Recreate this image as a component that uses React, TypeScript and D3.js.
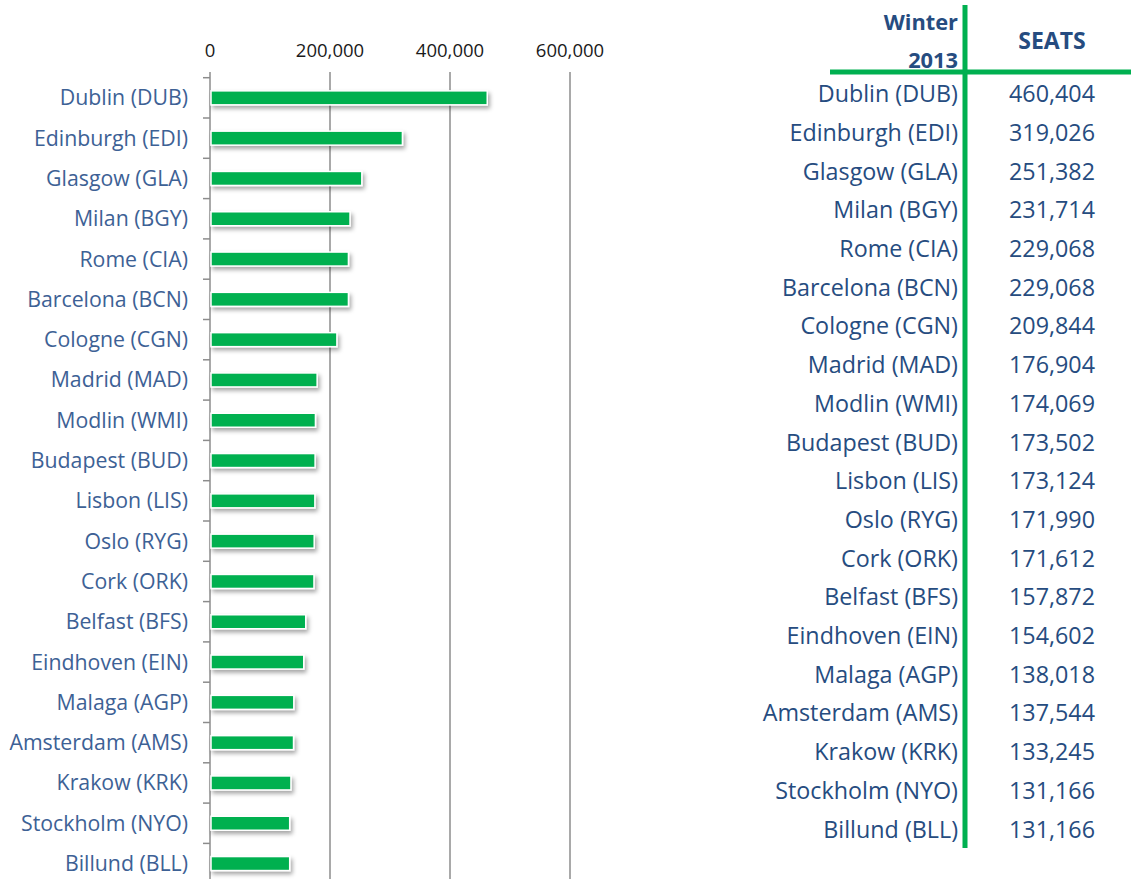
import React from "react";
import * as d3 from "d3";

const airports = [
  "Dublin (DUB)", "Edinburgh (EDI)", "Glasgow (GLA)", "Milan (BGY)", "Rome (CIA)",
  "Barcelona (BCN)", "Cologne (CGN)", "Madrid (MAD)", "Modlin (WMI)", "Budapest (BUD)",
  "Lisbon (LIS)", "Oslo (RYG)", "Cork (ORK)", "Belfast (BFS)", "Eindhoven (EIN)",
  "Malaga (AGP)", "Amsterdam (AMS)", "Krakow (KRK)", "Stockholm (NYO)", "Billund (BLL)",
];
const seats = [
  460404, 319026, 251382, 231714, 229068, 229068, 209844, 176904, 174069, 173502,
  173124, 171990, 171612, 157872, 154602, 138018, 137544, 133245, 131166, 131166,
];
const xTicks = [0, 200000, 400000, 600000];
const headerLeft = ["Winter", "2013"];
const headerRight = "SEATS";

const W = 1131;
const H = 879;
const labelColor = "#3d6195";
const tableColor = "#264c80";
const green = "#00b050";
const font = "'Open Sans', Lato, sans-serif";

export default function App() {
  const x = d3.scaleLinear().domain([0, 600000]).range([210, 570]);
  const y = d3.scaleBand<string>().domain(airports).range([77.7, 77.7 + 20 * 40.3]);
  const barH = 14;
  const fmt = d3.format(",");
  const ty = d3.scaleBand<string>().domain(airports).range([74.7, 74.7 + 20 * 38.7]);

  return (
    <svg width={W} height={H} style={{ position: "absolute", left: 0, top: 0 }} fontFamily={font}>
      <defs>
        <filter id="sh" x="-10%" y="-50%" width="130%" height="250%">
          <feDropShadow dx="2" dy="3" stdDeviation="2" floodColor="#000" floodOpacity="0.35" />
        </filter>
      </defs>
      <rect width={W} height={H} fill="#fff" />
      {/* gridlines */}
      {xTicks.map((t) => (
        <line key={"g" + t} x1={x(t)} x2={x(t)} y1={72} y2={H} stroke="#8c8c8c" strokeWidth={1.5} />
      ))}
      {/* tick labels */}
      {xTicks.map((t) => (
        <text key={"t" + t} x={x(t)} y={51} dy="0.35em" textAnchor="middle" fontSize={18.5} fill="#1a1a1a">
          {fmt(t)}
        </text>
      ))}
      {/* category ticks */}
      {airports.map((a) => (
        <line key={"ct" + a} x1={203} x2={210} y1={y(a)!} y2={y(a)!} stroke="#8c8c8c" strokeWidth={1.5} />
      ))}
      {/* bars */}
      {airports.map((a, i) => {
        const cy = y(a)! + y.bandwidth() / 2;
        return (
          <rect
            key={"b" + a}
            x={x(0) + 1}
            y={cy - barH / 2}
            width={x(seats[i]) - x(0)}
            height={barH}
            fill={green}
            stroke="#fff"
            strokeWidth={1.5}
            filter="url(#sh)"
          />
        );
      })}
      {/* category labels */}
      {airports.map((a) => (
        <text key={"l" + a} x={188} y={y(a)! + y.bandwidth() / 2} dy="0.35em" textAnchor="end" fontSize={21.3} fill={labelColor}>
          {a}
        </text>
      ))}

      {/* table */}
      <line x1={965} x2={965} y1={5} y2={848} stroke={green} strokeWidth={5} />
      <line x1={830} x2={W} y1={72} y2={72} stroke={green} strokeWidth={5} />
      <text x={958} y={22} dy="0.35em" textAnchor="end" fontSize={21.8} fontWeight="bold" fill={tableColor}>
        {headerLeft[0]}
      </text>
      <text x={958} y={60} dy="0.35em" textAnchor="end" fontSize={21.8} fontWeight="bold" fill={tableColor}>
        {headerLeft[1]}
      </text>
      <text x={1052} y={41} dy="0.35em" textAnchor="middle" fontSize={23} fontWeight="bold" fill={tableColor}>
        {headerRight}
      </text>
      {airports.map((a, i) => {
        const cy = ty(a)! + ty.bandwidth() / 2;
        return (
          <g key={"r" + a}>
            <text x={958} y={cy} dy="0.35em" textAnchor="end" fontSize={23.3} fill={tableColor}>
              {a}
            </text>
            <text x={1095} y={cy} dy="0.35em" textAnchor="end" fontSize={23.3} fill={tableColor}>
              {fmt(seats[i])}
            </text>
          </g>
        );
      })}
    </svg>
  );
}
